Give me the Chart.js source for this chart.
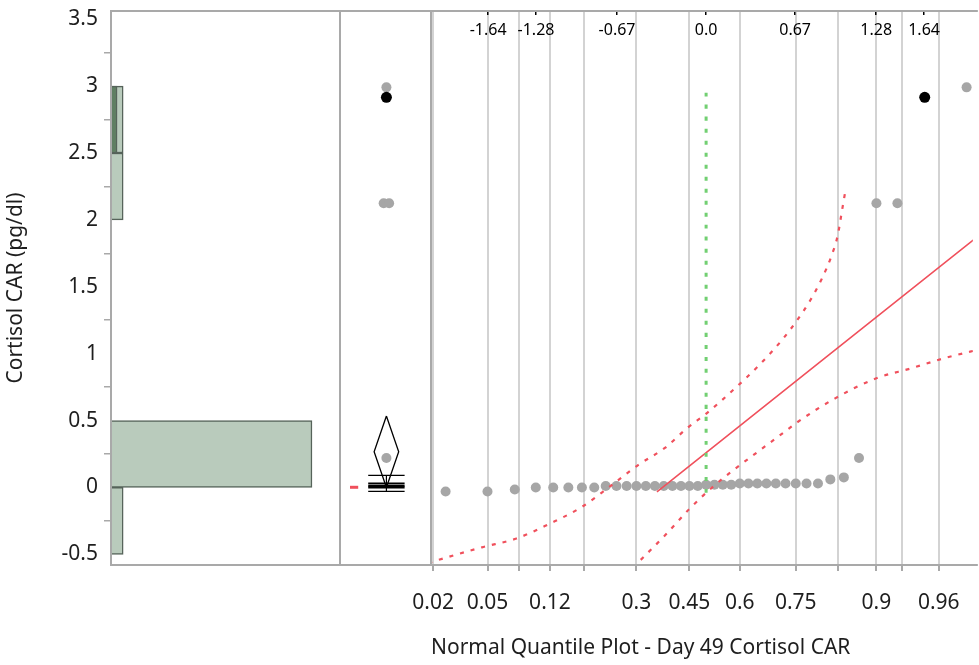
<!DOCTYPE html>
<html>
<head>
<meta charset="utf-8">
<script src="https://cdn.jsdelivr.net/npm/chart.js@4.4.0/dist/chart.umd.min.js"></script>
<style>
  body { margin: 0; background: #fff; }
  #wrap { position: relative; width: 979px; height: 665px; overflow: hidden; }
  #wrap canvas { position: absolute; left: 0; top: 0; }
</style>
</head>
<body>
<div id="wrap">
  <canvas id="hist" width="979" height="665"></canvas>
  <canvas id="box" width="979" height="665"></canvas>
  <canvas id="nq" width="979" height="665"></canvas>
</div>
<script>
// Shared value axis
const yTicks = [-0.5, 0, 0.5, 1, 1.5, 2, 2.5, 3, 3.5];

// Histogram: bin mid points, counts, and counts of the selected row
const binMids = [-0.25, 0.25, 2.25, 2.75];
const binCounts = [2, 33, 2, 2];
const binSelected = [0, 0, 0, 1];

// Day 49 Cortisol CAR, sorted (n = 39)
const cortisol = [
  -0.03, -0.03, -0.015, 0, 0, 0, 0, 0,
  0.01, 0.01, 0.01, 0.01, 0.01, 0.01, 0.01, 0.01, 0.01, 0.01, 0.01,
  0.02, 0.02, 0.02, 0.02,
  0.03, 0.03, 0.03, 0.03, 0.03, 0.03, 0.03, 0.03, 0.03,
  0.06, 0.075, 0.22,
  2.124, 2.124, 2.917, 2.991
];
const selectedIdx = 37; // highlighted row (black point)

// Outlier box plot
const quartiles = [0.0, 0.01, 0.03];      // Q1, median, Q3
const whiskers = [-0.03, 0.09];
const meanCI = [0.0, 0.267, 0.534];       // lower 95%, mean, upper 95%
const shortestHalf = [-0.004, 0.006];

// Normal quantile plot axes
const probTicks = [0.02, 0.05, 0.08, 0.12, 0.18, 0.3, 0.45, 0.6, 0.75, 0.84, 0.9, 0.93, 0.96];
const probLabels = ['0.02', '0.05', '', '0.12', '', '0.3', '0.45', '0.6', '0.75', '', '0.9', '', '0.96'];
const quantTicks = [-1.64, -1.28, -0.67, 0, 0.67, 1.28, 1.64];
const quantLabels = ['-1.64', '-1.28', '-0.67', '0.0', '0.67', '1.28', '1.64'];

// Normal fit line and confidence curves (normal quantile -> value)
const fitZ = [-0.37, 2.1];
const fitY = [-0.033, 1.92];
const upperZ = [-2.09, -2.051, -1.687, -1.427, -1.179, -0.945, -0.72, -0.512, -0.307, -0.144, 0.004, 0.203, 0.401, 0.575, 0.686, 0.785, 0.872, 0.941, 0.991, 1.021, 1.051];
const upperY = [-0.565, -0.553, -0.448, -0.382, -0.272, -0.152, 0.01, 0.167, 0.298, 0.442, 0.554, 0.728, 0.916, 1.107, 1.252, 1.401, 1.563, 1.725, 1.887, 2.061, 2.236];
const lowerZ = [-0.55, -0.515, -0.307, -0.125, 0.057, 0.187, 0.396, 0.591, 0.674, 0.971, 1.281, 1.541, 1.788, 1.987, 2.05];
const lowerY = [-0.6, -0.565, -0.356, -0.16, 0.01, 0.115, 0.272, 0.416, 0.479, 0.666, 0.816, 0.89, 0.965, 1.015, 1.03];
const medianRefY = [-0.04, 2.95];

// inverse normal CDF (Acklam)
function probit(p) {
  const a = [-39.69683028665376, 220.9460984245205, -275.9285104469687, 138.357751867269, -30.66479806614716, 2.506628277459239];
  const b = [-54.47609879822406, 161.5858368580409, -155.6989798598866, 66.80131188771972, -13.28068155211639];
  const c = [-0.007784894002430293, -0.3223964580411365, -2.400758277161838, -2.549732539343734, 4.374664141464968, 2.938163982698783];
  const d = [0.007784695709041462, 0.3224671290700398, 2.445134137142996, 3.754408661907416];
  const tail = q => (((((c[0]*q+c[1])*q+c[2])*q+c[3])*q+c[4])*q+c[5]) / ((((d[0]*q+d[1])*q+d[2])*q+d[3])*q+1);
  if (p < 0.02425) return tail(Math.sqrt(-2 * Math.log(p)));
  if (p > 1 - 0.02425) return -tail(Math.sqrt(-2 * Math.log(1 - p)));
  const q = p - 0.5, r = q * q;
  return (((((a[0]*r+a[1])*r+a[2])*r+a[3])*r+a[4])*r+a[5])*q / (((((b[0]*r+b[1])*r+b[2])*r+b[3])*r+b[4])*r+1);
}

// look
const W = 979, H = 665;
const TOP = 11, BOTTOM = 565;
const HIST_R = 340, BOX_R = 431;
const Y_MIN = -0.58, Y_MAX = 3.562;
const FONT = "'Noto Sans', 'Open Sans', sans-serif";
const TXT = '#1e1e1e';
const FRAME = '#a9a9a9';
const RED = '#f0505c';
const GREY_PT = '#a6a6a6';

// grey panel frame
const framePlugin = {
  id: 'frame',
  afterDatasetsDraw(chart, args, opts) {
    const { ctx, chartArea: a } = chart;
    ctx.save();
    ctx.strokeStyle = FRAME;
    ctx.lineWidth = 2;
    ctx.beginPath();
    ctx.moveTo(a.right + (opts.openRight ? 5 : 0), a.top);
    ctx.lineTo(a.left, a.top);
    ctx.lineTo(a.left, a.bottom);
    ctx.lineTo(a.right + (opts.openRight ? 5 : 0), a.bottom);
    if (!opts.openRight) ctx.closePath();
    ctx.stroke();
    ctx.restore();
  }
};

const yScale = (show) => ({
  type: 'linear',
  min: Y_MIN,
  max: Y_MAX,
  offset: false,
  display: show,
  afterBuildTicks: s => { s.ticks = yTicks.map(v => ({ value: v })); },
  afterFit: s => {
    if (show) s.width = 111;
    s.paddingTop = 0;
    s.paddingBottom = 0;
  },
  grid: { drawOnChartArea: false, drawTicks: true, tickLength: 7, color: FRAME, lineWidth: 1.5 },
  border: { display: false },
  ticks: { font: { family: FONT, size: 21 }, color: TXT, padding: 6, callback: v => String(v) },
  title: { display: show, text: 'Cortisol CAR (pg/dl)', font: { family: FONT, size: 21 }, color: TXT, padding: { top: 3, bottom: 0 } }
});

const common = {
  responsive: false,
  animation: false,
  events: [],
  plugins: { legend: { display: false }, tooltip: { enabled: false } }
};

// Histogram
new Chart(document.getElementById('hist'), {
  type: 'bar',
  data: {
    datasets: [
      {
        data: binMids.map((m, i) => ({ x: binSelected[i], y: m })).filter(d => d.x > 0),
        backgroundColor: '#5f7f62',
        borderColor: '#56635a',
        borderWidth: 1.5,
        grouped: false
      },
      {
        data: binMids.map((m, i) => ({ x: binCounts[i], y: m })),
        backgroundColor: '#b9cbbc',
        borderColor: '#56635a',
        borderWidth: 1.5,
        grouped: false
      }
    ]
  },
  options: {
    ...common,
    indexAxis: 'y',
    barPercentage: 1,
    categoryPercentage: 1,
    layout: { padding: { top: TOP, right: W - HIST_R, bottom: H - BOTTOM, left: 0 } },
    scales: {
      x: { type: 'linear', min: 0, max: 37.6, display: false },
      y: yScale(true)
    },
    plugins: { ...common.plugins, frame: {} }
  },
  plugins: [framePlugin]
});

// Outlier box plot panel
const mid = 0.51, boxHalf = 0.2, diaHalf = 0.135;
const seg = (pts, color, width, extra) => Object.assign({
  data: pts, showLine: true, pointRadius: 0, borderColor: color, borderWidth: width
}, extra || {});
const boxSets = [];
quartiles.forEach(q => boxSets.push(seg([{ x: mid - boxHalf, y: q }, { x: mid + boxHalf, y: q }], '#000', 2)));
whiskers.forEach(w => boxSets.push(seg([{ x: mid - boxHalf, y: w }, { x: mid + boxHalf, y: w }], '#000', 1.2)));
boxSets.push(seg([{ x: mid, y: whiskers[0] }, { x: mid, y: whiskers[1] }], '#000', 1.2));
boxSets.push(seg([
  { x: mid, y: meanCI[2] }, { x: mid - diaHalf, y: meanCI[1] }, { x: mid, y: meanCI[0] },
  { x: mid + diaHalf, y: meanCI[1] }, { x: mid, y: meanCI[2] }
], '#000', 1.3));
boxSets.push(seg([{ x: 0.11, y: (shortestHalf[0] + shortestHalf[1]) / 2 }, { x: 0.2, y: (shortestHalf[0] + shortestHalf[1]) / 2 }], RED, 3));

// outliers beyond the whiskers, duplicates nudged sideways
const outliers = cortisol.map((v, i) => ({ v, i })).filter(o => o.v > whiskers[1] || o.v < whiskers[0]);
const outPts = outliers.map(o => {
  const dup = outliers.filter(p => p.v === o.v);
  const pos = dup.indexOf(o);
  return { x: mid + (dup.length > 1 ? (pos - (dup.length - 1) / 2) * 0.06 : 0), y: o.v, sel: o.i === selectedIdx };
});
boxSets.push({ data: outPts.filter(p => p.sel), pointRadius: 5.5, pointBackgroundColor: '#000', pointBorderWidth: 0 });
boxSets.push({ data: outPts.filter(p => !p.sel), pointRadius: 5, pointBackgroundColor: GREY_PT, pointBorderWidth: 0 });

new Chart(document.getElementById('box'), {
  type: 'scatter',
  data: { datasets: boxSets },
  options: {
    ...common,
    layout: { padding: { top: TOP, right: W - BOX_R, bottom: H - BOTTOM, left: HIST_R } },
    scales: {
      x: { type: 'linear', min: 0, max: 1, display: false },
      y: yScale(false)
    },
    plugins: { ...common.plugins, frame: {} }
  },
  plugins: [framePlugin]
});

// Normal quantile plot
const n = cortisol.length;
const qPts = cortisol.map((v, i) => ({ x: probit((i + 1) / (n + 1)), y: v }));
const line = (zs, ys, color, width, dash) => ({
  data: zs.map((z, i) => ({ x: z, y: ys[i] })),
  showLine: true, pointRadius: 0, borderColor: color, borderWidth: width,
  borderDash: dash || [], cubicInterpolationMode: 'monotone'
});

new Chart(document.getElementById('nq'), {
  type: 'scatter',
  data: {
    datasets: [
      line([0, 0], medianRefY, '#72cf72', 3, [4, 8]),
      line(fitZ, fitY, RED, 1.6),
      line(upperZ, upperY, RED, 2.2, [4, 7]),
      line(lowerZ, lowerY, RED, 2.2, [4, 7]),
      { data: qPts.filter((p, i) => i === selectedIdx), pointRadius: 5.5, pointBackgroundColor: '#000', pointBorderWidth: 0 },
      { data: qPts.filter((p, i) => i !== selectedIdx), pointRadius: 5, pointBackgroundColor: GREY_PT, pointBorderWidth: 0 }
    ]
  },
  options: {
    ...common,
    layout: { padding: { top: TOP, right: 0, bottom: 0, left: BOX_R } },
    scales: {
      x: {
        type: 'linear', position: 'bottom', min: -2.07, max: 2.007,
        afterBuildTicks: s => { s.ticks = probTicks.map(p => ({ value: probit(p) })); },
        afterFit: s => { s.height = H - BOTTOM; },
        grid: { color: '#d3d3d3', lineWidth: 2, drawTicks: true, tickLength: 6, tickColor: FRAME },
        border: { display: false },
        ticks: {
          font: { family: FONT, size: 21 }, color: TXT, padding: 19,
          autoSkip: false, maxRotation: 0,
          callback: (v, i) => probLabels[i]
        },
        title: {
          display: true, align: 'start', text: 'Normal Quantile Plot - Day 49 Cortisol CAR',
          font: { family: FONT, size: 21 }, color: TXT, padding: { top: 0, bottom: 4 }
        }
      },
      xq: {
        type: 'linear', position: 'top', min: -2.07, max: 2.007,
        afterBuildTicks: s => { s.ticks = quantTicks.map(v => ({ value: v })); },
        afterFit: s => { s.height = 0; },
        grid: { drawOnChartArea: false, drawTicks: true, tickLength: -4, tickColor: '#000', lineWidth: 1.5 },
        border: { display: false },
        ticks: {
          mirror: true,
          font: { family: FONT, size: 16 }, color: '#000', padding: 10,
          autoSkip: false, maxRotation: 0,
          callback: (v, i) => quantLabels[i]
        }
      },
      y: yScale(false)
    },
    plugins: { ...common.plugins, frame: { openRight: true } }
  },
  plugins: [framePlugin]
});
</script>
</body>
</html>
